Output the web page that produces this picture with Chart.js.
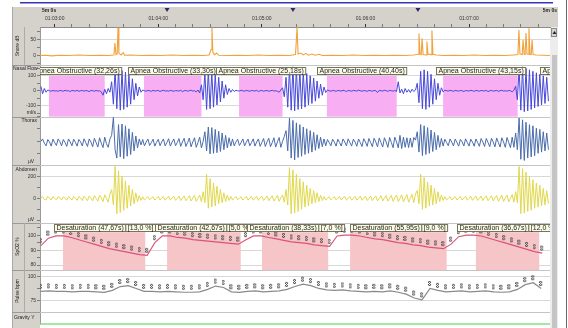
<!DOCTYPE html>
<html>
<head>
<meta charset="utf-8">
<title>Polysomnography – 5 min page</title>
<script src="https://cdn.jsdelivr.net/npm/chart.js@4.4.1/dist/chart.umd.min.js"></script>
<style>
  html, body { margin: 0; padding: 0; background: #fff; }
  canvas { display: block; }
</style>
</head>
<body>
<canvas id="psg" width="568" height="328"></canvas>
<script>
// ---------------------------------------------------------------------------
// Page window: seconds relative to 01:03:00
const WINDOW_START = -8.5;
const WINDOW_END = 286.9;
const CLOCK_ORIGIN = 1 * 3600 + 3 * 60;

// Respiratory waveforms, one sample per second from WAVE_T0
const WAVE_T0 = -8;
const WAVE_STEP = 1;

// Nasal flow (mL/s)
const nasalFlow = [
  30, -20, 15, -10, 5, 0, -3, 2, -2, 0,
  -4, 2, 0, -3, 3, -1, 0, -5, 2, 0,
  -2, 3, -4, 0, 2, -3, 1, 0, -6, 2,
  0, -3, 2, -2, 0, -8, -30, 10, -20, 15,
  -10, 60, -90, 140, -120, 145, -130, 135, -125, 125,
  -110, 105, -90, 80, -60, 50, -35, 25, -10, 5,
  0, -3, 2, 0, -4, 3, -2, 0, 2, -5,
  0, 3, -2, 0, -3, 2, 0, -4, 1, 0,
  -2, 3, -6, 0, 2, -3, 0, 4, -2, 0,
  -8, 5, -15, 40, -60, 120, -125, 135, -120, 125,
  -110, 110, -95, 90, -75, 65, -50, 40, -25, 15,
  -10, 8, -5, 3, 0, -2, 3, 0, -3, 2,
  0, -4, 2, 0, -2, 3, -5, 0, 2, -3,
  0, 2, -4, 0, 3, -2, 0, -3, -10, 5,
  20, -40, 90, -110, 150, -130, 160, -135, 150, -125,
  140, -120, 130, -110, 115, -95, 100, -85, 85, -70,
  65, -50, 45, -30, 25, -12, 5, 0, -3, 2,
  0, -4, 2, 0, -2, 3, 0, -5, 2, 0,
  -3, 2, 0, -2, 4, 0, -3, 1, 0, -4,
  2, 0, -3, 2, 0, -12, 3, 0, -2, 3,
  0, -4, 2, 0, -3, 2, -5, 60, -15, 10,
  -20, 15, -10, 8, -12, 10, -5, 5, 50, -80,
  130, -120, 140, -125, 130, -110, 110, -90, 80, -60,
  50, -30, 20, -8, 3, 0, -2, 3, 0, -4,
  2, 0, -3, 2, 0, -5, 1, 0, -2, 3,
  0, -4, 2, 0, -3, 2, 0, -2, 3, -6,
  0, 2, -3, 0, 2, -4, 0, 3, -2, 0,
  -3, 2, 0, -8, 4, 30, -60, 150, -130, 160,
  -140, 150, -135, 140, -125, 130, -115, 120, -105, 110,
  -95, 100, -85, 90, -70
];

// Thoracic effort (µV)
const thorax = [
  10, 30, -5, -28, 25, 5, -30, 28, 0, -25,
  30, 8, -28, 25, 0, -32, 30, 5, -27, 28,
  2, -30, 26, 6, -29, 31, 0, -33, 30, 4,
  -35, 35, 0, -38, 40, -5, -42, 45, -10, -40,
  30, 60, 210, -60, -130, 150, -120, 155, -135, 140,
  -115, 115, -100, 85, -70, 55, -45, 30, -20, 25,
  -28, 5, 30, -25, 0, 28, -30, 2, 27, -26,
  5, 30, -28, 0, 32, -30, 4, 30, -27, 0,
  33, -32, 5, 35, -33, 0, 38, -36, 5, 40,
  -40, 0, 45, -45, 10, 90, -70, 130, -95, 125,
  -90, 110, -85, 95, -75, 80, -60, 60, -45, 40,
  -30, 30, -28, 5, 28, -25, 0, 30, -28, 3,
  29, -27, 0, 31, -30, 5, 30, -32, 0, 34,
  -33, 5, 36, -35, 0, 40, -38, 5, 42, -40,
  10, 50, 100, -70, 205, -130, 185, -145, 165, -125,
  150, -115, 130, -100, 115, -90, 100, -80, 85, -65,
  65, -50, 45, -35, 30, -28, 25, 0, -27, 28,
  3, -30, 27, 0, -29, 30, 5, -28, 31, 0,
  -30, 28, 4, -31, 30, 0, -33, 32, 5, -32,
  34, 0, -35, 36, 5, -36, 38, 0, -38, 40,
  5, -40, 42, 0, -43, 45, 5, -45, 60, -50,
  45, -40, 40, -42, 38, -40, 42, 20, 90, -80,
  150, -110, 140, -100, 125, -90, 105, -75, 85, -60,
  60, -40, 35, -30, 28, 0, -27, 30, 3, -28,
  29, 0, -30, 27, 5, -29, 31, 0, -30, 28,
  4, -31, 30, 0, -32, 33, 5, -33, 34, 0,
  -35, 36, 5, -36, 38, 0, -38, 40, 5, -40,
  42, 0, -43, 45, -40, 80, -60, 205, -140, 190,
  -150, 170, -130, 150, -120, 140, -110, 120, -90, 110,
  -80, 90, -70, 80, -60
];

// Abdominal effort (µV)
const abdomen = [
  5, 15, -10, -15, 18, 2, -16, 15, 0, -14,
  16, 3, -15, 14, 0, -17, 16, 2, -15, 17,
  0, -18, 18, 3, -20, 20, 0, -22, 22, 4,
  -24, 25, 0, -26, 28, 4, -30, 32, 0, -35,
  40, 80, -60, 290, -140, 250, -130, 200, -110, 160,
  -90, 120, -70, 80, -50, 50, -30, 25, -20, 15,
  -15, 0, 16, -14, 2, 15, -16, 0, 17, -15,
  3, 16, -17, 0, 18, -16, 2, 19, -18, 0,
  20, -20, 3, 22, -22, 0, 24, -25, 3, 27,
  -28, 0, 30, -32, 60, -40, 220, -90, 180, -80,
  140, -70, 110, -50, 80, -40, 50, -30, 30, -20,
  18, -15, 0, 16, -14, 2, 15, -15, 0, 16,
  -16, 3, 17, -17, 0, 18, -18, 2, 20, -20,
  0, 22, -22, 3, 24, -25, 0, 27, -28, 4,
  30, -35, 80, -60, 280, -140, 260, -135, 220, -120,
  180, -100, 150, -80, 120, -70, 90, -50, 70, -40,
  50, -30, 30, -20, 16, -15, 0, 15, -14, 2,
  16, -15, 0, 15, -16, 3, 17, -15, 0, 16,
  -17, 2, 18, -17, 0, 19, -18, 3, 20, -20,
  0, 21, -21, 2, 22, -23, 0, 24, -24, 3,
  25, -26, 0, 27, -28, 3, 30, -30, 0, 32,
  -33, 4, 34, -35, 0, 36, -38, 40, 70, -50,
  220, -100, 190, -90, 150, -70, 120, -60, 90, -50,
  60, -30, 30, -20, 15, -14, 0, 15, -15, 2,
  16, -15, 0, 17, -16, 3, 18, -17, 0, 19,
  -18, 2, 20, -19, 0, 21, -21, 3, 22, -22,
  0, 24, -24, 3, 26, -27, 0, 28, -29, 4,
  30, -32, 0, 34, -35, 60, -40, 290, -140, 270,
  -135, 240, -120, 200, -110, 170, -90, 140, -80, 120,
  -70, 90, -60, 70, -50
];

// Snore level (dB), irregularly sampled
const snoreTimes = [
  -8.5, -5, -2, 3, 8, 14, 20, 26, 31, 34.3,
  34.9, 35.5, 36.2, 36.7, 37.2, 38.5, 39.7, 40.5, 44, 50,
  56, 62, 68, 74, 80, 86, 89.5, 90.6, 91.1, 91.6,
  92.5, 93.8, 95, 100, 106, 112, 118, 124, 130, 136,
  139.5, 140.4, 141, 142.5, 144, 145.5, 147, 149, 151, 153,
  155, 161, 167, 173, 179, 185, 191, 197, 203, 208,
  210.5, 211, 211.6, 212.3, 212.8, 213.4, 215.1, 215.6, 216.2, 218,
  218.5, 219.1, 221, 225, 231, 237, 243, 249, 255, 261,
  266, 268.3, 268.9, 269.5, 270.8, 271.3, 271.9, 272.5, 273, 273.6,
  274.2, 274.7, 275.3, 276, 276.5, 277.1, 279, 283, 286.9
];
const snoreDb = [
  1, 2, 0, 2, 1, 3, 1, 2, 1, 3,
  40, 4, 6, 88, 8, 3, 10, 2, 3, 1,
  2, 1, 3, 1, 2, 1, 3, 20, 88, 12,
  4, 9, 2, 1, 2, 1, 3, 1, 2, 1,
  4, 90, 6, 9, 3, 8, 2, 6, 2, 5,
  1, 2, 1, 3, 1, 2, 1, 2, 1, 3,
  5, 70, 5, 4, 55, 4, 3, 45, 6, 4,
  80, 5, 3, 1, 2, 1, 3, 1, 2, 1,
  3, 4, 81, 6, 4, 50, 5, 4, 72, 6,
  5, 87, 5, 4, 50, 4, 3, 2, 1
];

// Oxygen saturation (%)
const SPO2_T0 = -8;
const SPO2_STEP = 4.4;
const spo2 = [
  93, 98, 99.5, 99.5, 98.5, 97, 95.5, 94, 92.5, 91,
  90, 89, 88, 87, 86.5, 95, 99.5, 99.5, 98.5, 98,
  97, 96.5, 96, 95.5, 95, 94.5, 94, 97, 99.5, 99.5,
  98.5, 97.5, 96.5, 95.5, 95, 94.5, 93.5, 93, 92.5, 99.5,
  100, 100, 99.5, 98.5, 97.5, 97, 96, 95, 94.5, 93.5,
  93, 92, 91.5, 91, 94, 99, 100, 100, 99.5, 98,
  96.5, 95, 93.5, 92, 90.5, 89, 88
];

// Pulse rate (bpm)
const PULSE_T0 = -8;
const PULSE_STEP = 4.6;
const pulse = [
  85, 85.5, 85, 85, 84.5, 85, 85, 84.5, 84, 86,
  90, 91, 88, 85, 85, 84.5, 85, 84.5, 84, 84,
  84.5, 87, 90.5, 89, 84.5, 84, 85, 85.5, 84.5, 85,
  85.5, 87, 90, 92.5, 91, 88, 86.5, 86, 86.5, 85.5,
  85, 84.5, 85, 84.5, 85.5, 84, 82, 78, 76, 88,
  86, 84.5, 85, 85.5, 84.5, 85, 85.5, 84.5, 84, 84.5,
  87, 92, 94, 88
];

// Body position sensor
const gravityTimes = [WINDOW_START, WINDOW_END];
const gravityY = [0.04, 0.04];

// Scored events
const apneaStart = [-3.3, 51.7, 106.8, 157.7, 225.0, 289.4];
const apneaDuration = [32.26, 33.30, 25.18, 40.40, 43.15, 35.00];
const desatStart = [4.8, 65.1, 120.1, 171.1, 244.0];
const desatDuration = [47.67, 42.67, 38.33, 55.95, 36.67];
const desatDrop = [13.0, 5.0, 7.0, 9.0, 12.0];

// Page markers on the time ruler
const pageMarks = [65.1, 138.0, 210.4];

// ---------------------------------------------------------------------------
const FONT = '"Liberation Sans", Arial, sans-serif';
const PANEL_GRAY = '#d5d2cb';

// Channel panels, top to bottom (h = panel height share)
const panels = [
  { id: 'snore',   h: 38, min: -28.1,  max: 90.6,  step: 25,   labels: [0, 50],        grid: [50] },
  { id: 'nasal',   h: 52, min: -173.3, max: 173.3, step: 50,   labels: [-100, 0, 100], grid: [-100, 100] },
  { id: 'thorax',  h: 49, min: -191.7, max: 216.7, step: 100,  labels: [0],            grid: [] },
  { id: 'abdomen', h: 58, min: -227,   max: 300,   step: 100,  labels: [0, 200],       grid: [200] },
  { id: 'spo2',    h: 47, min: 76.7,   max: 108,   step: 5,    labels: [80, 90, 100],  grid: [80, 90] },
  { id: 'pulse',   h: 42, min: 63.5,   max: 107.3, step: 12.5, labels: [75, 100],      grid: [75, 100] },
  { id: 'gravity', h: 13, min: 0,      max: 1,     step: 1,    labels: [],             grid: [] }
];

const fromStep = (t0, step, arr) => arr.map((v, i) => ({ x: t0 + i * step, y: v }));
const fromPairs = (ts, vs) => ts.map((t, i) => ({ x: t, y: vs[i] }));
const comma = (v, d) => v.toFixed(d).replace('.', ',');
const pad2 = n => String(n).padStart(2, '0');
function clock(sec) {
  const t = CLOCK_ORIGIN + sec;
  return pad2(Math.floor(t / 3600)) + ':' + pad2(Math.floor(t / 60) % 60) + ':' + pad2(t % 60);
}

// small value tick drawn above each oximeter / pulse sample
function sampleGlyph(color) {
  const c = document.createElement('canvas');
  c.width = 4; c.height = 17;
  const g = c.getContext('2d');
  g.fillStyle = color;
  [[1,1],[0,2],[2,2],[1,3],[0,4],[2,4],[1,5]]
    .forEach(([x, y]) => g.fillRect(x, y, 1, 1));
  g.globalAlpha = 0.45;
  [[0,1],[2,1],[0,5],[2,5]].forEach(([x, y]) => g.fillRect(x, y, 1, 1));
  return c;
}
const glyph = sampleGlyph('#505050');

function panelScale(p, order) {
  return {
    type: 'linear', position: 'left', stack: 'channels', stackWeight: p.h, weight: order,
    min: p.min, max: p.max,
    afterFit(s) { s.width = 28; s.paddingTop = 0; s.paddingBottom = 0; },
    ticks: {
      stepSize: p.step, includeBounds: false, autoSkip: false, padding: 1,
      color: '#333', font: { family: FONT, size: 5 },
      callback: v => p.labels.includes(v) ? String(v) : ''
    },
    grid: {
      color: c => (c.tick && p.grid.includes(c.tick.value)) ? '#d8d8d8' : 'rgba(0,0,0,0)',
      tickLength: 3,
      tickColor: p.id === 'gravity' ? 'rgba(0,0,0,0)' : '#7c7c7c'
    },
    border: { color: '#9a9a9a' }
  };
}

const scales = {
  x: {
    type: 'linear', position: 'top', min: WINDOW_START, max: WINDOW_END,
    afterFit(s) { s.height = 20; s.paddingLeft = 0; s.paddingRight = 0; },
    ticks: {
      stepSize: 10, includeBounds: false, autoSkip: false, maxRotation: 0, padding: 2,
      color: '#333', font: { family: FONT, size: 5 },
      callback: v => (v % 60 === 0 ? clock(v) : '')
    },
    grid: {
      drawOnChartArea: false, tickLength: 3,
      tickColor: c => (c.tick && c.tick.value % 60 === 0) ? '#333' : '#7a7a7a'
    },
    border: { color: '#8c8c8c' }
  }
};
panels.forEach((p, i) => { scales[p.id] = panelScale(p, panels.length - i); });

// Chart furniture: ruler strip, label column, event shading and tags
const chrome = {
  id: 'chrome',
  beforeDraw(chart) {
    const { ctx, chartArea: a } = chart;
    const W = chart.width, H = chart.height;
    ctx.save();
    ctx.fillStyle = '#fff';
    ctx.fillRect(0, 0, W, H);
    ctx.fillStyle = '#3333b4';
    ctx.fillRect(20, 2, a.right + 3 - 20, 1);
    ctx.fillStyle = '#9c9ce6';
    ctx.fillRect(20, 3, a.right + 3 - 20, 1);
    ctx.fillStyle = PANEL_GRAY;
    ctx.fillRect(12, 7, a.right + 8 - 12, a.top - 7);
    ctx.fillRect(12, a.top, a.left - 12, H - a.top);
    ctx.fillStyle = '#a8a8a8';
    ctx.fillRect(12, 7, 1, H - 7);
    // scrollbar
    ctx.fillStyle = '#ededed';
    ctx.fillRect(a.right, a.top, 8, H - a.top);
    ctx.fillStyle = '#c5c5c5';
    ctx.fillRect(a.right + 2, a.top + 28, 5, H - a.top - 28);
    ctx.fillStyle = PANEL_GRAY;
    ctx.fillRect(a.right + 1, a.top + 1, 6, 9);
    ctx.strokeStyle = '#8a8a8a';
    ctx.lineWidth = 1;
    ctx.strokeRect(a.right + 1.5, a.top + 1.5, 5, 8);
    ctx.fillStyle = '#222';
    ctx.beginPath();
    ctx.moveTo(a.right + 2.5, a.top + 7);
    ctx.lineTo(a.right + 6.5, a.top + 7);
    ctx.lineTo(a.right + 4.5, a.top + 4);
    ctx.fill();
    ctx.fillStyle = '#666';
    ctx.fillRect(W - 2, 0, 1, H);
    ctx.restore();
  },
  beforeDatasetsDraw(chart) {
    const { ctx, chartArea: a, scales: S } = chart;
    const X = S.x;
    ctx.save();
    ctx.beginPath();
    ctx.rect(a.left, a.top, a.right - a.left, a.bottom - a.top);
    ctx.clip();
    // apnea shading
    ctx.fillStyle = '#f8aef2';
    apneaStart.forEach((s, i) => {
      const x1 = X.getPixelForValue(s), x2 = X.getPixelForValue(s + apneaDuration[i]);
      const top = S.nasal.getPixelForValue(100);
      ctx.fillRect(x1, top, x2 - x1, S.nasal.bottom - top);
    });
    // desaturation shading
    ctx.fillStyle = '#f6c5c8';
    desatStart.forEach((s, i) => {
      const x1 = X.getPixelForValue(s), x2 = X.getPixelForValue(s + desatDuration[i]);
      const top = S.spo2.getPixelForValue(102);
      ctx.fillRect(x1, top, x2 - x1, S.spo2.bottom - top);
    });
    ctx.restore();
    // panel separators
    ctx.save();
    panels.slice(0, -1).forEach(p => {
      const y = Math.round(S[p.id].bottom) + 0.5;
      ctx.strokeStyle = '#c4c4c4';
      ctx.beginPath(); ctx.moveTo(a.left, y); ctx.lineTo(a.right, y); ctx.stroke();
      ctx.strokeStyle = '#9a9a9a';
      ctx.beginPath(); ctx.moveTo(12, y); ctx.lineTo(a.left, y); ctx.stroke();
    });
    ['snore', 'spo2', 'pulse'].forEach(id => {
      ctx.strokeStyle = '#ababab';
      ctx.beginPath(); ctx.moveTo(24.5, S[id].top); ctx.lineTo(24.5, S[id].bottom); ctx.stroke();
    });
    ctx.restore();
  },
  afterDatasetsDraw(chart) {
    const { ctx, chartArea: a, scales: S } = chart;
    const X = S.x;
    ctx.save();
    ctx.beginPath();
    ctx.rect(a.left, a.top, a.right - a.left, a.bottom - a.top);
    ctx.clip();
    ctx.font = '7px ' + FONT;
    ctx.textBaseline = 'middle';
    ctx.lineWidth = 1;
    const tag = (parts, cx, top) => {
      const widths = parts.map(t => ctx.measureText(t).width + 4);
      const total = widths.reduce((s, w) => s + w, 0);
      let x = Math.round(cx - total / 2) + 0.5;
      parts.forEach((t, k) => {
        ctx.fillStyle = '#fbfbe8';
        ctx.fillRect(x, top, widths[k], 7);
        ctx.strokeStyle = '#74745a';
        ctx.strokeRect(x, top, widths[k], 7);
        ctx.fillStyle = '#262626';
        ctx.fillText(t, x + 2, top + 4);
        x += widths[k];
      });
    };
    apneaStart.forEach((s, i) => {
      const cx = (X.getPixelForValue(s) + X.getPixelForValue(s + apneaDuration[i])) / 2;
      tag(['Apnea Obstructive (' + comma(apneaDuration[i], 2) + 's)'], cx, Math.round(S.nasal.top) + 2.5);
    });
    desatStart.forEach((s, i) => {
      const cx = (X.getPixelForValue(s) + X.getPixelForValue(s + desatDuration[i])) / 2;
      tag(['Desaturation (' + comma(desatDuration[i], 2) + 's)', '[' + comma(desatDrop[i], 1) + ' %]'],
          cx, Math.round(S.spo2.top) + 1.5);
    });
    ctx.restore();
  },
  afterDraw(chart) {
    const { ctx, chartArea: a, scales: S } = chart;
    ctx.save();
    ctx.fillStyle = '#222';
    ctx.textBaseline = 'middle';
    // page length and markers on the ruler
    ctx.font = 'bold 5px ' + FONT;
    ctx.textAlign = 'left';
    ctx.fillText('5m 0s', 42, 11);
    ctx.textAlign = 'right';
    ctx.fillText('5m 0s', a.right + 7, 11);
    ctx.fillStyle = '#2c2c6a';
    pageMarks.forEach(t => {
      const x = S.x.getPixelForValue(t);
      ctx.beginPath();
      ctx.moveTo(x - 2.5, 8); ctx.lineTo(x + 2.5, 8); ctx.lineTo(x, 12); ctx.fill();
    });
    // channel names and units
    ctx.fillStyle = '#222';
    ctx.font = '5px ' + FONT;
    const mid = s => (s.top + s.bottom) / 2;
    const vertical = (text, x, y) => {
      ctx.save();
      ctx.translate(x, y);
      ctx.rotate(-Math.PI / 2);
      ctx.textAlign = 'center';
      ctx.fillText(text, 0, 0);
      ctx.restore();
    };
    vertical('Snore dB', 18, mid(S.snore));
    vertical('SpO2 %', 18, mid(S.spo2));
    vertical('Pulse bpm', 18, mid(S.pulse));
    ctx.textAlign = 'left';
    ctx.fillText('Nasal Flow', 13, S.nasal.top + 4);
    ctx.fillText('Gravity Y', 14, S.gravity.top + 6);
    ctx.textAlign = 'right';
    ctx.fillText('ml/s', 36, S.nasal.bottom - 4);
    ctx.fillText('Thorax', 37, S.thorax.top + 4);
    ctx.fillText('Abdomen', 37, S.abdomen.top + 4);
    ctx.textAlign = 'center';
    ctx.fillText('µV', 31, S.thorax.bottom - 4);
    ctx.fillText('µV', 31, S.abdomen.bottom - 4);
    ctx.restore();
  }
};

const line = (label, data, axis, color, width, extra) => Object.assign({
  label, data, yAxisID: axis, xAxisID: 'x',
  borderColor: color, borderWidth: width, pointRadius: 0, tension: 0, fill: false
}, extra || {});

new Chart(document.getElementById('psg'), {
  type: 'line',
  data: {
    datasets: [
      line('Snore', fromPairs(snoreTimes, snoreDb), 'snore', '#f2a23c', 1.1),
      line('Nasal Flow', fromStep(WAVE_T0, WAVE_STEP, nasalFlow), 'nasal', '#4848d8', 1),
      line('Thorax', fromStep(WAVE_T0, WAVE_STEP, thorax), 'thorax', '#4a6cab', 1),
      line('Abdomen', fromStep(WAVE_T0, WAVE_STEP, abdomen), 'abdomen', '#e0d84c', 1),
      line('SpO2', fromStep(SPO2_T0, SPO2_STEP, spo2), 'spo2', '#dc5278', 1.1,
           { pointStyle: glyph, pointRadius: 2, pointHoverRadius: 2 }),
      line('Pulse', fromStep(PULSE_T0, PULSE_STEP, pulse), 'pulse', '#8a8a8a', 1.2,
           { pointStyle: glyph, pointRadius: 2, pointHoverRadius: 2 }),
      line('Gravity Y', fromPairs(gravityTimes, gravityY), 'gravity', '#86df86', 2)
    ]
  },
  options: {
    responsive: false,
    devicePixelRatio: 1,
    animation: false,
    events: [],
    layout: { padding: { left: 12, right: 18, top: 7, bottom: 2 } },
    plugins: { legend: { display: false }, tooltip: { enabled: false } },
    scales
  },
  plugins: [chrome]
});
</script>
</body>
</html>
